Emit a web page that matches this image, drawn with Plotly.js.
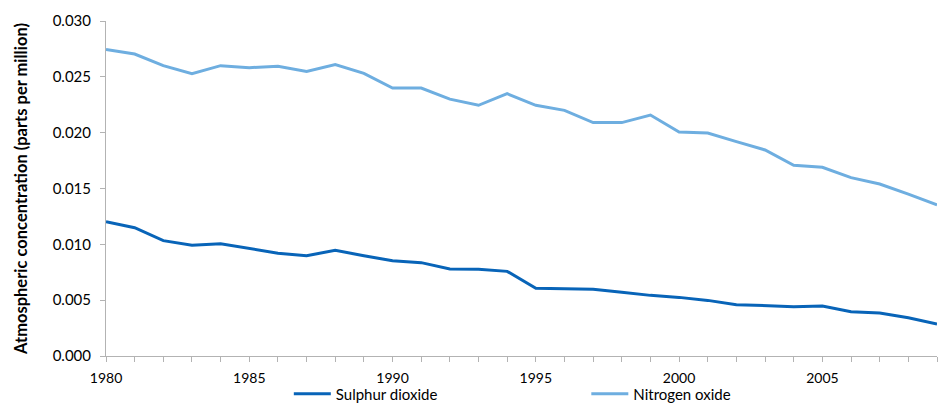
<!DOCTYPE html>
<html>
<head>
<meta charset="utf-8">
<script src="https://cdn.plot.ly/plotly-3.0.1.min.js"></script>
<style>html,body{margin:0;padding:0;background:#fff;}#chart{width:947px;height:405px;}</style>
</head>
<body>
<div id="chart"></div>
<script>
var years = [1980,1981,1982,1983,1984,1985,1986,1987,1988,1989,1990,1991,1992,1993,1994,1995,1996,1997,1998,1999,2000,2001,2002,2003,2004,2005,2006,2007,2008,2009];
var sulphurDioxide = [0.01203,0.01149,0.01033,0.00991,0.01006,0.00964,0.00920,0.00898,0.00946,0.00898,0.00854,0.00836,0.00779,0.00776,0.00758,0.00606,0.00603,0.00597,0.00570,0.00543,0.00525,0.00498,0.00460,0.00454,0.00442,0.00448,0.00397,0.00385,0.00343,0.00287];
var nitrogenOxide = [0.02746,0.02704,0.02600,0.02528,0.02600,0.02582,0.02594,0.02548,0.02609,0.02531,0.02400,0.02400,0.02300,0.02245,0.02349,0.02245,0.02200,0.02090,0.02090,0.02158,0.02006,0.01997,0.01920,0.01845,0.01708,0.01690,0.01597,0.01540,0.01450,0.01353];
var seriesNames = ["Sulphur dioxide", "Nitrogen oxide"];
var yTitle = "Atmospheric concentration (parts per million)";

var font = "Lato, 'Open Sans', sans-serif";
var traces = [
  {x: years, y: sulphurDioxide, name: seriesNames[0], type: "scatter", mode: "lines",
   line: {color: "#0864b8", width: 3}, legend: "legend"},
  {x: years, y: nitrogenOxide, name: seriesNames[1], type: "scatter", mode: "lines",
   line: {color: "#6eaee0", width: 3}, legend: "legend2"}
];
var legendBase = {orientation: "h", xanchor: "left", yanchor: "top", y: -0.064,
  itemwidth: 37,
  font: {family: font, size: 15, color: "#000"}, bgcolor: "rgba(0,0,0,0)", borderwidth: 0};
var layout = {
  width: 947, height: 405,
  margin: {l: 106, r: 10, t: 21, b: 49, autoexpand: false},
  paper_bgcolor: "#fff", plot_bgcolor: "#fff",
  font: {family: font, size: 14, color: "#000"},
  showlegend: true,
  legend: Object.assign({}, legendBase, {x: 0.22}),
  legend2: Object.assign({}, legendBase, {x: 0.578}),
  xaxis: {range: [1980, 2009], showgrid: false, zeroline: false,
          showline: true, linecolor: "#b3b3b3", linewidth: 1,
          ticks: "outside", ticklen: 5, tickcolor: "#b3b3b3",
          tick0: 1980, dtick: 5, tickformat: "d",
          ticklabelstandoff: 4,
          minor: {dtick: 1, ticks: "outside", ticklen: 5, tickcolor: "#b3b3b3", showgrid: false},
          tickfont: {family: font, size: 14, color: "#000"}},
  yaxis: {range: [0, 0.030], showgrid: false, zeroline: false,
          showline: true, linecolor: "#b3b3b3", linewidth: 1,
          ticks: "outside", ticklen: 5, tickcolor: "#b3b3b3",
          tick0: 0, dtick: 0.005, tickformat: ".3f",
          ticklabelstandoff: 6,
          tickfont: {family: font, size: 15, color: "#000"},
          title: {text: yTitle, font: {family: font, size: 16.5, color: "#000", weight: "bold"}, standoff: 20}}
};
Plotly.newPlot("chart", traces, layout, {displayModeBar: false, staticPlot: true});
</script>
</body>
</html>
